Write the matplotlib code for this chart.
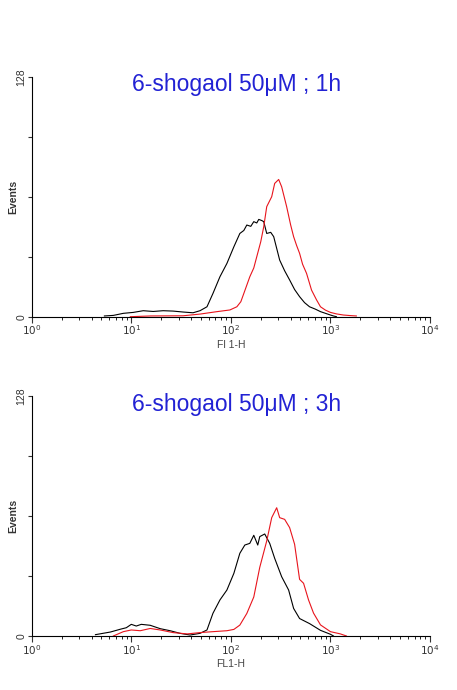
import numpy as np
import matplotlib
matplotlib.use("Agg")
import matplotlib.pyplot as plt
from matplotlib.ticker import FixedLocator, NullFormatter

plt.rcParams["font.family"] = ["Liberation Sans", "DejaVu Sans"]

# ── data: (log10 FL1-H, events) ───────────────────────────────────────────────
ctrl_1h_log = [0.73, 0.82, 0.92, 1.02, 1.12, 1.22, 1.32, 1.42, 1.52, 1.62, 1.69,
               1.76, 1.82, 1.89, 1.96, 2.03, 2.09, 2.13, 2.16, 2.20, 2.23, 2.26,
               2.28, 2.31, 2.33, 2.36, 2.40, 2.43, 2.49, 2.54, 2.59, 2.64, 2.69,
               2.74, 2.79, 2.85, 2.90, 2.95, 3.00, 3.03, 3.06]
ctrl_1h_cnt = [0.4, 0.7, 1.8, 2.3, 3.2, 2.8, 3.2, 3.0, 2.5, 2.1, 3.2,
               5.3, 12.4, 21.3, 28.4, 37.3, 44.4, 46.0, 48.9, 48.2, 50.7, 50.0,
               51.9, 51.3, 50.7, 44.4, 45.0, 42.7, 30.2, 24.5, 19.6, 14.5, 10.7,
               7.5, 5.3, 4.0, 2.7, 1.8, 0.9, 0.4, 0.0]

shog_1h_log = [0.99, 1.19, 1.52, 1.69, 1.86, 1.99, 2.06, 2.10, 2.13, 2.19, 2.23,
               2.26, 2.30, 2.33, 2.36, 2.41, 2.44, 2.48, 2.51, 2.56, 2.60, 2.63,
               2.66, 2.69, 2.72, 2.76, 2.81, 2.86, 2.90, 2.95, 3.00, 3.06, 3.13,
               3.20, 3.26]
shog_1h_cnt = [0.0, 0.4, 0.5, 1.4, 2.7, 3.6, 5.3, 8.0, 12.4, 21.3, 26.0,
               32.0, 40.0, 48.0, 58.7, 64.0, 71.1, 73.2, 69.3, 58.7, 49.0, 42.7,
               38.0, 33.8, 28.0, 23.1, 14.2, 9.0, 5.3, 3.5, 2.3, 1.5, 0.9,
               0.6, 0.4]

ctrl_3h_log = [0.64, 0.79, 0.89, 0.95, 1.00, 1.05, 1.10, 1.19, 1.29, 1.39, 1.49,
               1.59, 1.69, 1.76, 1.82, 1.89, 1.96, 2.03, 2.09, 2.14, 2.19, 2.23,
               2.27, 2.29, 2.34, 2.39, 2.44, 2.51, 2.58, 2.63, 2.69, 2.79, 2.90,
               3.00, 3.03]
ctrl_3h_cnt = [0.7, 2.1, 3.6, 4.4, 6.2, 5.3, 6.2, 5.7, 3.9, 2.8, 1.4,
               0.5, 1.4, 3.2, 12.1, 19.2, 24.5, 33.4, 44.1, 48.5, 49.4, 53.7,
               48.5, 53.0, 54.4, 49.4, 41.4, 31.6, 24.5, 14.7, 9.3, 6.6, 3.0,
               0.9, 0.0]

shog_3h_log = [0.82, 0.92, 1.00, 1.09, 1.19, 1.29, 1.42, 1.56, 1.69, 1.82, 1.96,
               2.03, 2.09, 2.16, 2.23, 2.29, 2.36, 2.41, 2.46, 2.49, 2.54, 2.59,
               2.64, 2.69, 2.73, 2.78, 2.83, 2.90, 3.00, 3.10, 3.16]
shog_3h_cnt = [0.0, 2.3, 3.2, 2.8, 4.0, 3.2, 1.8, 1.1, 1.8, 2.3, 2.8,
               3.5, 5.8, 12.0, 20.8, 36.6, 50.7, 63.1, 68.4, 63.1, 62.2, 57.8,
               48.9, 30.2, 28.1, 19.2, 12.2, 5.9, 2.3, 1.1, 0.0]

panels = [
    dict(title="6-shogaol 50\u03bcM ; 1h", xlabel="Fl 1-H",
         ctrl=(ctrl_1h_log, ctrl_1h_cnt), shog=(shog_1h_log, shog_1h_cnt),
         rect=[0.0694, 0.541, 0.8716, 0.3478], title_y=0.878),
    dict(title="6-shogaol 50\u03bcM ; 3h", xlabel="FL1-H",
         ctrl=(ctrl_3h_log, ctrl_3h_cnt), shog=(shog_3h_log, shog_3h_cnt),
         rect=[0.0694, 0.0783, 0.8716, 0.3478], title_y=0.4142),
]

fig = plt.figure(figsize=(4.57, 6.9), dpi=100)

for p in panels:
    ax = fig.add_axes(p["rect"])
    cx, cy = p["ctrl"]
    sx, sy = p["shog"]
    ax.plot(10 ** np.array(cx), cy, color="black", linewidth=0.8)
    ax.plot(10 ** np.array(sx), sy, color="#e8141c", linewidth=0.8)

    ax.set_xscale("log")
    ax.set_xlim(1, 1e4)
    ax.set_ylim(0, 128)
    for s in ("top", "right"):
        ax.spines[s].set_visible(False)
    for s in ("left", "bottom"):
        ax.spines[s].set_linewidth(0.8)

    ax.xaxis.set_major_locator(FixedLocator([1, 10, 100, 1000, 10000]))
    ax.set_xticklabels([r"$10^0$", r"$10^1$", r"$10^2$", r"$10^3$", r"$10^4$"])
    minors = [m * 10 ** e for e in range(4) for m in range(2, 10)]
    ax.xaxis.set_minor_locator(FixedLocator(minors))
    ax.xaxis.set_minor_formatter(NullFormatter())
    ax.tick_params(axis="x", which="major", length=4, width=0.8, pad=1,
                   labelsize=7.5, colors="#333333")
    ax.tick_params(axis="x", which="minor", length=2, width=0.6)

    ax.yaxis.set_major_locator(FixedLocator([0, 32, 64, 96, 128]))
    ax.set_yticklabels(["0", "", "", "", "128"], rotation=90, va="center")
    ax.tick_params(axis="y", length=3, width=0.8, pad=1, labelsize=7.5,
                   colors="#333333")

    ax.set_xlabel(p["xlabel"], fontsize=7.5, color="#444444", labelpad=2)
    ax.set_ylabel("Events", fontsize=7.5, fontweight="bold", color="#333333")
    ax.yaxis.set_label_coords(-0.035, 0.5)

    fig.text(0.5186, p["title_y"], p["title"], ha="center", va="center",
             fontsize=16.5, color="#2222d4")

fig.savefig("out.png", dpi=100)
